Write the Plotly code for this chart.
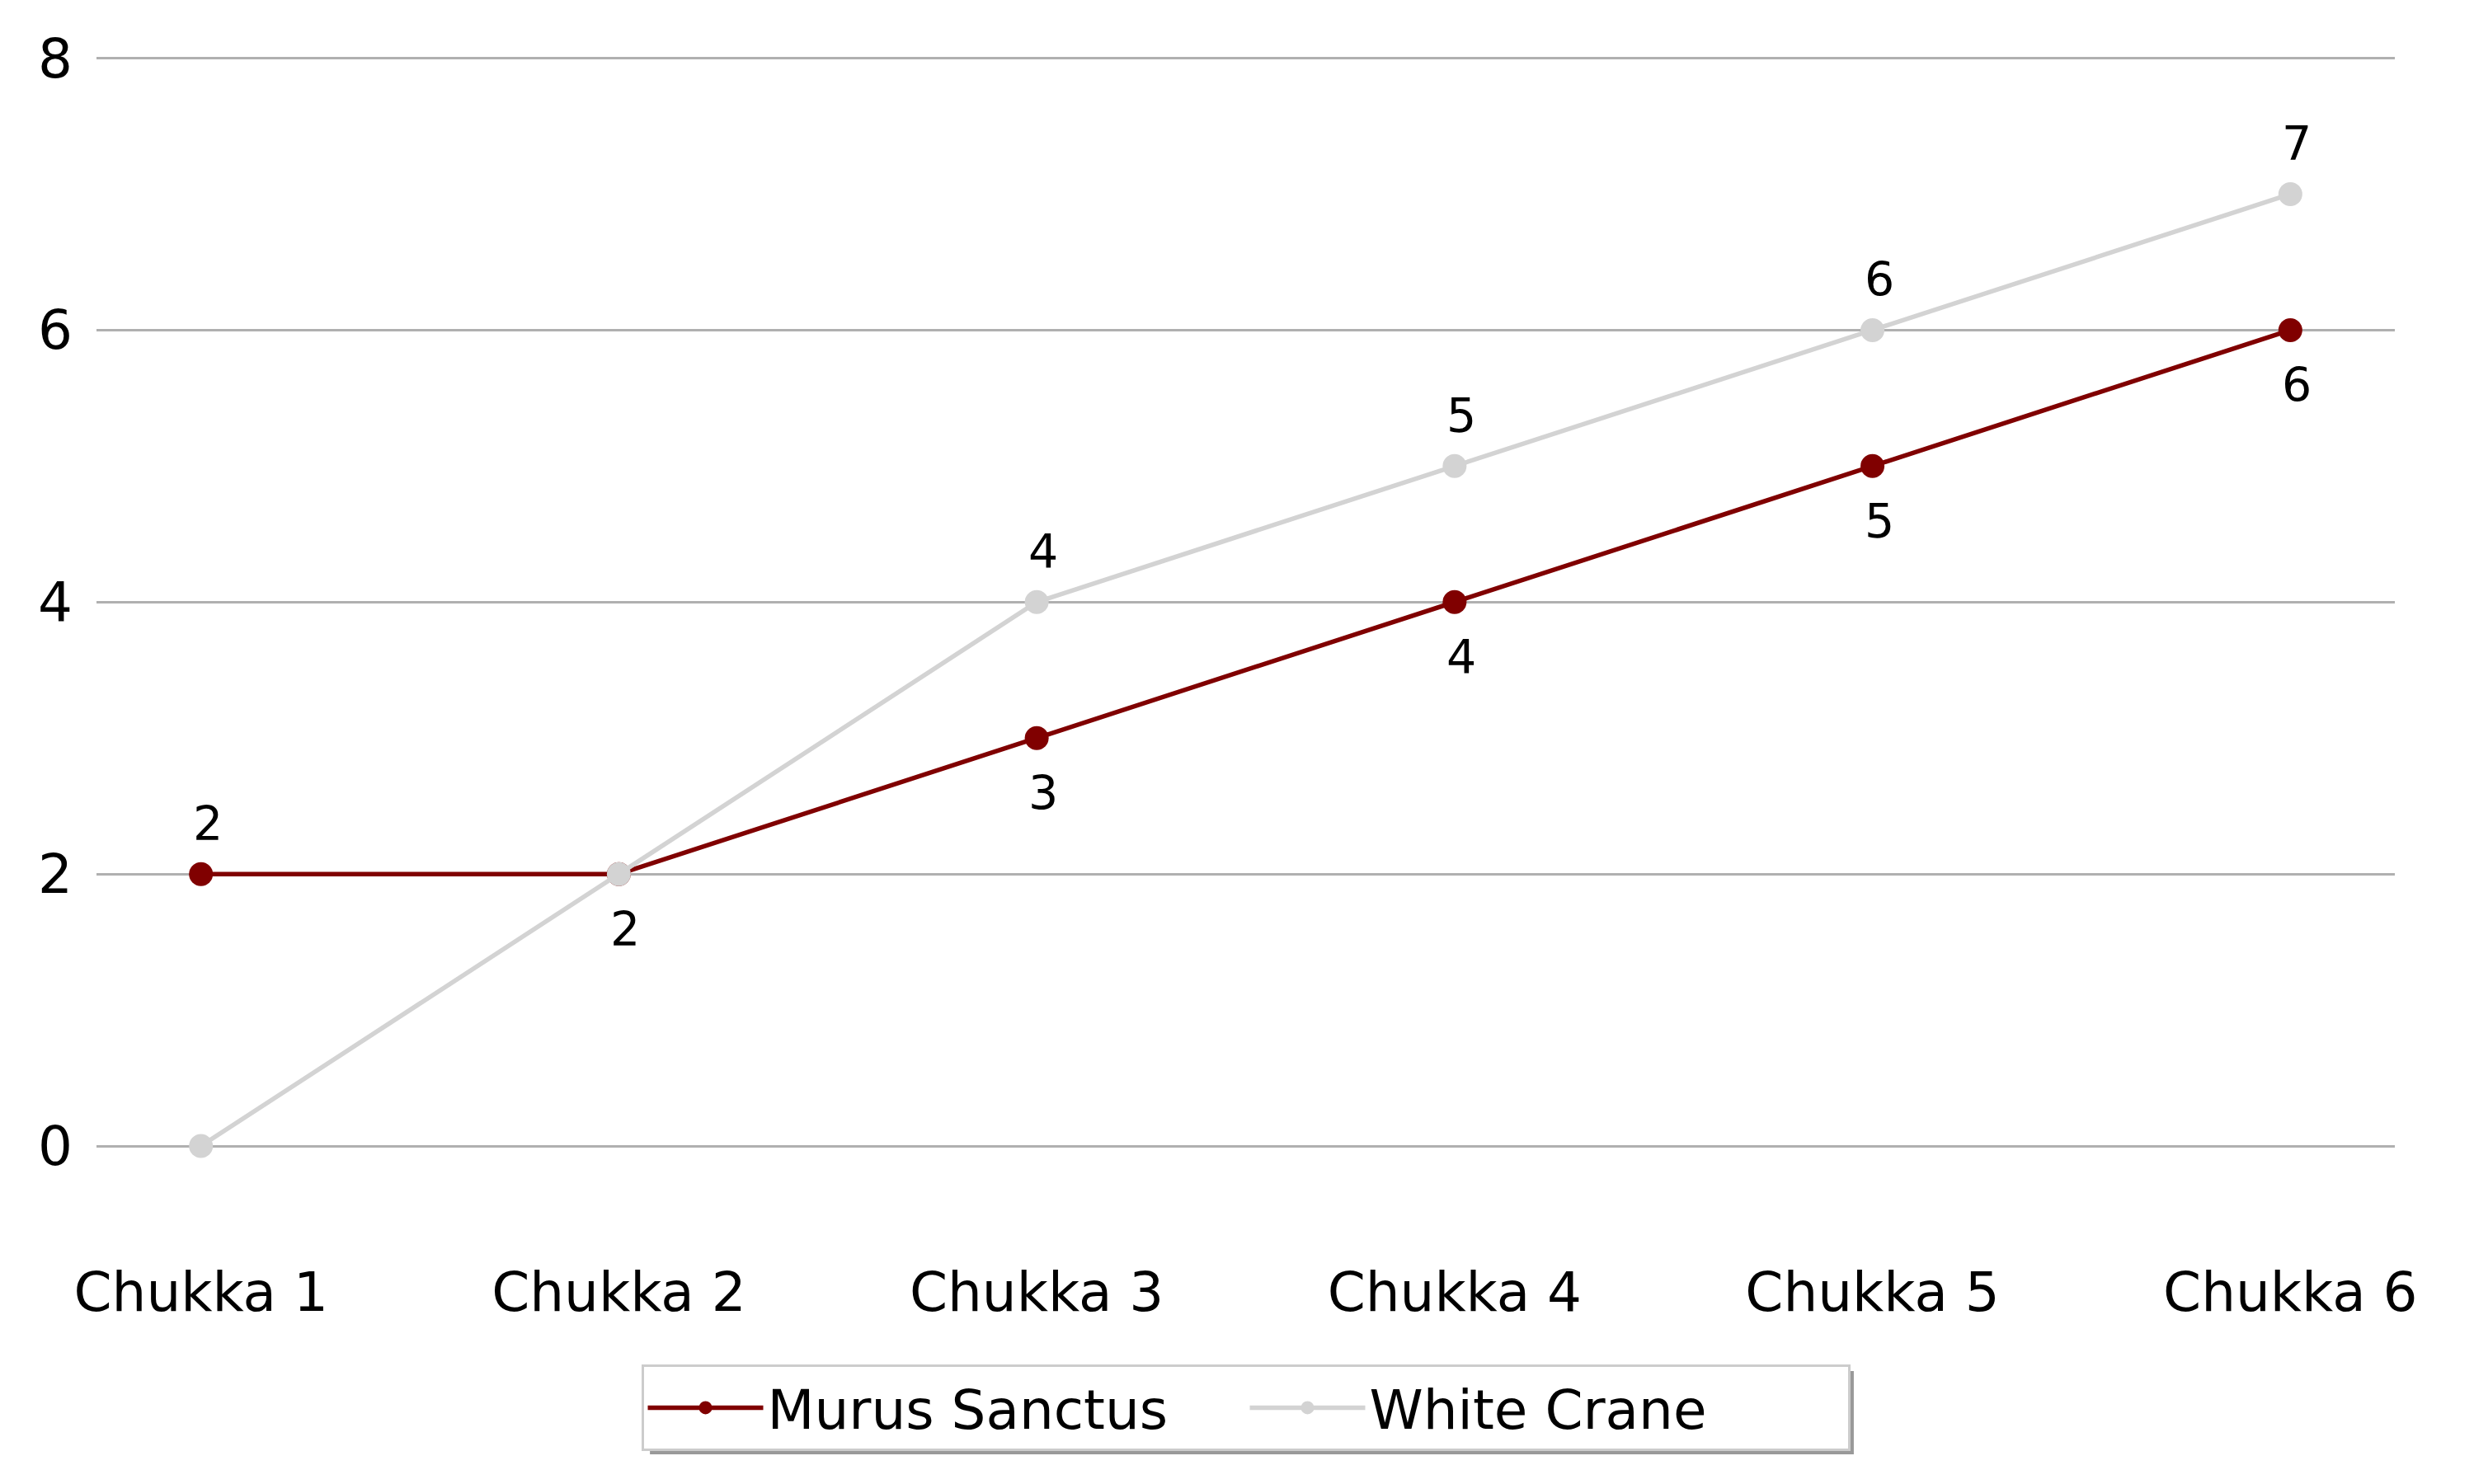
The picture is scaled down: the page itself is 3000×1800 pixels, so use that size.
import plotly.graph_objects as go

# datos del partido
chukkas = ["Chukka 1", "Chukka 2", "Chukka 3", "Chukka 4", "Chukka 5", "Chukka 6"]
murus_sanctus = [2, 2, 3, 4, 5, 6]
white_crane = [0, 2, 4, 5, 6, 7]
y_ticks = [0, 2, 4, 6, 8]

MAROON = "#800000"
LIGHTGRAY = "#d3d3d3"
FONT = "DejaVu Sans"

fig = go.Figure()

fig.add_trace(go.Scatter(
    x=chukkas, y=murus_sanctus, name="Murus Sanctus",
    mode="lines+markers",
    line=dict(color=MAROON, width=5.5),
    marker=dict(color=MAROON, size=29),
))

fig.add_trace(go.Scatter(
    x=chukkas, y=white_crane, name="White Crane",
    mode="lines+markers",
    line=dict(color=LIGHTGRAY, width=5.5),
    marker=dict(color=LIGHTGRAY, size=29),
))

# etiquetas: el mayor arriba, el menor abajo, empates una sola vez
for c, m, w in zip(chukkas, murus_sanctus, white_crane):
    if m > w:
        fig.add_annotation(x=c, y=m, text=str(m), showarrow=False,
                           yanchor="bottom", yshift=26, xshift=8)
    else:
        fig.add_annotation(x=c, y=m, text=str(m), showarrow=False,
                           yanchor="top", yshift=-32, xshift=8)
    if w > m:
        fig.add_annotation(x=c, y=w, text=str(w), showarrow=False,
                           yanchor="bottom", yshift=26, xshift=8)

fig.update_annotations(font=dict(family=FONT, size=57, color="black"))

# sombra de la leyenda
fig.add_shape(type="rect", xref="paper", yref="paper", layer="below",
              x0=0.2408, x1=0.7646, y0=-0.1213, y1=-0.1916,
              fillcolor="#999999", line=dict(width=0))

fig.update_layout(
    width=3000, height=1800,
    margin=dict(l=109, r=104, t=46, b=319),
    paper_bgcolor="white", plot_bgcolor="white",
    font=dict(family=FONT, size=66, color="black"),
    showlegend=True,
    legend=dict(
        orientation="h", x=0.5, xanchor="center", y=-0.1157, yanchor="top",
        bgcolor="white", bordercolor="#cccccc", borderwidth=3,
        font=dict(family=FONT, size=66, color="black"),
        itemwidth=140, entrywidth=575,
    ),
    xaxis=dict(
        range=[-0.25, 5.25], showgrid=False, zeroline=False, showline=False,
        tickfont=dict(family=FONT, size=66, color="black"),
        ticklabelstandoff=34,
    ),
    yaxis=dict(
        range=[-0.6, 8.1], tickvals=y_ticks,
        showgrid=True, gridcolor="#b0b0b0", gridwidth=2.5,
        zeroline=False, showline=False,
        tickfont=dict(family=FONT, size=66, color="black"),
        ticklabelstandoff=28,
    ),
)

fig.write_html("out.html")
